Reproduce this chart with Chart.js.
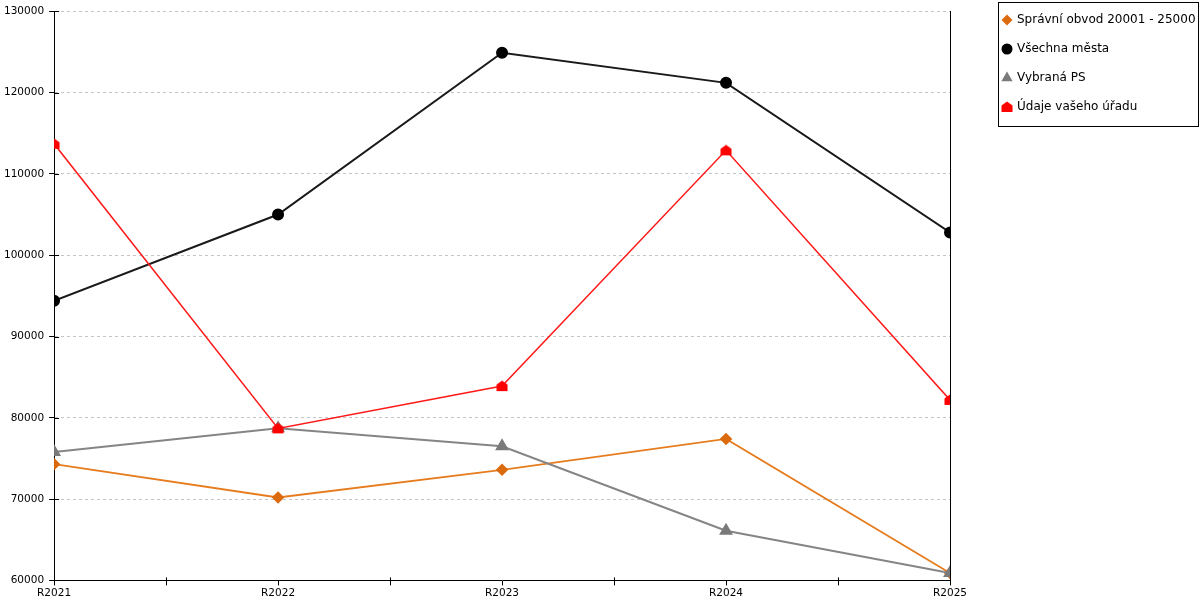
<!DOCTYPE html>
<html>
<head>
<meta charset="utf-8">
<script src="https://cdn.jsdelivr.net/npm/chart.js@4.4.1/dist/chart.umd.min.js"></script>
<style>
  html, body { margin: 0; padding: 0; background: #fff; }
  #wrap { width: 1200px; height: 600px; }
</style>
</head>
<body>
<div id="wrap"><canvas id="chart"></canvas></div>
<script>
// values
const categories = ['R2021', 'R2022', 'R2023', 'R2024', 'R2025'];
const spravniObvod = [74300, 70200, 73600, 77400, 60900];
const vsechnaMesta = [94400, 105000, 124900, 121200, 102800];
const vybranaPS = [75800, 78700, 76500, 66100, 60900];
const udajeUradu = [113700, 78700, 83900, 112900, 82200];
const seriesNames = ['Správní obvod 20001 - 25000', 'Všechna města', 'Vybraná PS', 'Údaje vašeho úřadu'];
const yMin = 60000, yMax = 130000, yStep = 10000;

const toPoints = arr => arr.map((v, i) => ({ x: i, y: v }));

// red "house" marker
function houseMarker() {
    const c = document.createElement('canvas');
    c.width = 12; c.height = 12;
    const g = c.getContext('2d');
    g.fillStyle = '#ff0000';
    g.beginPath();
    g.moveTo(6, 0.5);
    g.lineTo(11.5, 4.5);
    g.lineTo(11.5, 11);
    g.lineTo(0.5, 11);
    g.lineTo(0.5, 4.5);
    g.closePath();
    g.fill();
    return c;
}

// short tick marks on the inner side of the axes
const innerTicks = {
    id: 'innerTicks',
    beforeDatasetsDraw(chart) {
        const ctx = chart.ctx, y = chart.scales.y, x = chart.scales.x;
        ctx.save();
        ctx.strokeStyle = '#000';
        ctx.lineWidth = 1;
        ctx.beginPath();
        y.ticks.forEach((t, i) => {
            const py = Math.round(y.getPixelForTick(i)) + 0.5;
            ctx.moveTo(y.right, py);
            ctx.lineTo(y.right + 5, py);
        });
        x.ticks.forEach((t, i) => {
            if (Number.isInteger(t.value)) return;
            const px = Math.round(x.getPixelForTick(i)) + 0.5;
            ctx.moveTo(px, x.top);
            ctx.lineTo(px, x.top - 3);
        });
        ctx.stroke();
        ctx.restore();
    }
};

// framed legend in the top right corner
const boxLegend = {
    id: 'boxLegend',
    afterDraw(chart) {
        const ctx = chart.ctx;
        const left = chart.width - 202, top = 2, w = 201, h = 125;
        ctx.save();
        ctx.fillStyle = '#fff';
        ctx.fillRect(left, top, w, h);
        ctx.strokeStyle = '#000';
        ctx.lineWidth = 1;
        ctx.strokeRect(left + 0.5, top + 0.5, w - 1, h - 1);
        ctx.font = '12px "DejaVu Sans"';
        ctx.textBaseline = 'middle';
        chart.data.datasets.forEach((ds, i) => {
            const cy = top + 18 + i * 29;
            ctx.fillStyle = ds.backgroundColor;
            ctx.strokeStyle = ds.backgroundColor;
            Chart.helpers.drawPoint(ctx, {
                pointStyle: ds.pointStyle,
                radius: ds.legendRadius,
                rotation: 0,
                borderWidth: 0
            }, left + 9, cy);
            ctx.fillStyle = '#000';
            ctx.fillText(ds.label, left + 19, cy);
        });
        ctx.restore();
    }
};

const house = houseMarker();

new Chart(document.getElementById('chart'), {
    type: 'line',
    data: {
        datasets: [
            {
                label: seriesNames[0],
                data: toPoints(spravniObvod),
                borderColor: '#e67c1e',
                backgroundColor: '#dc6a0e',
                pointBorderColor: '#dc6a0e',
                pointStyle: 'rectRot',
                pointRadius: 5,
                legendRadius: 5.5,
                borderWidth: 1.8,
                order: 3
            },
            {
                label: seriesNames[1],
                data: toPoints(vsechnaMesta),
                borderColor: '#1a1a1a',
                backgroundColor: '#000',
                pointBorderColor: '#000',
                pointStyle: 'circle',
                pointRadius: 5,
                legendRadius: 5.5,
                borderWidth: 2,
                order: 2
            },
            {
                label: seriesNames[2],
                data: toPoints(vybranaPS),
                borderColor: '#858585',
                backgroundColor: '#7a7a7a',
                pointBorderColor: '#7a7a7a',
                pointStyle: 'triangle',
                pointRadius: 6,
                legendRadius: 6.5,
                borderWidth: 2,
                order: 1
            },
            {
                label: seriesNames[3],
                data: toPoints(udajeUradu),
                borderColor: '#ff1a1a',
                backgroundColor: '#ff0000',
                pointBorderColor: '#ff0000',
                pointStyle: house,
                legendRadius: 6,
                borderWidth: 1.5,
                order: 0
            }
        ]
    },
    options: {
        responsive: true,
        maintainAspectRatio: false,
        animation: false,
        layout: { padding: { top: 0, left: -1, right: 202, bottom: -2 } },
        elements: { line: { tension: 0 }, point: { hoverRadius: 6 } },
        plugins: {
            legend: { display: false },
            tooltip: { enabled: false }
        },
        scales: {
            x: {
                type: 'linear',
                min: 0,
                max: categories.length - 1,
                ticks: {
                    stepSize: 0.5,
                    autoSkip: false,
                    maxRotation: 0,
                    padding: 2,
                    color: '#000',
                    font: { family: 'DejaVu Sans', size: 10.5 },
                    callback: v => Number.isInteger(v) ? categories[v] : ''
                },
                grid: { drawOnChartArea: false, tickLength: 5, tickColor: '#000' },
                border: { color: '#000' }
            },
            y: {
                min: yMin,
                max: yMax,
                ticks: {
                    stepSize: yStep,
                    padding: 5,
                    color: '#000',
                    font: { family: 'DejaVu Sans', size: 10.5 },
                    callback: v => String(v)
                },
                grid: { color: '#c4c4c4', tickColor: '#000', tickLength: 5, tickBorderDash: [] },
                border: { color: '#000', dash: [3, 3] }
            },
            y2: {
                type: 'linear',
                position: 'right',
                ticks: { display: false },
                grid: { drawOnChartArea: false, drawTicks: false },
                border: { color: '#000' },
                afterFit: s => { s.width = 48; }
            }
        }
    },
    plugins: [innerTicks, boxLegend]
});
</script>
</body>
</html>
